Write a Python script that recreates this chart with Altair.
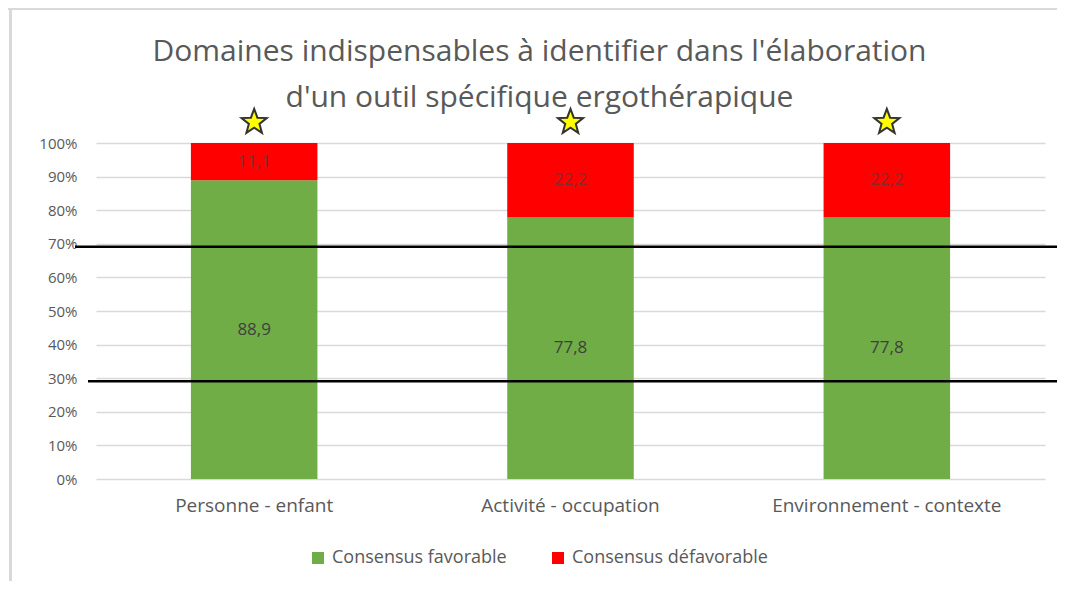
import math
import altair as alt
import pandas as pd

# ---- data ----
categories = ["Personne - enfant", "Activité - occupation", "Environnement - contexte"]
favorable = [88.9, 77.8, 77.8]
defavorable = [11.1, 22.2, 22.2]
series = ["Consensus favorable", "Consensus défavorable"]
colors = ["#70AD47", "#FF0000"]
y_ticks = [0.0, 0.1, 0.2, 0.3, 0.4, 0.5, 0.6, 0.7, 0.8, 0.9, 1.0]
upper_line = [0.691]
lower_line = [0.291]
star_level = [1.062, 1.062, 1.062]
title_lines = ["Domaines indispensables à identifier dans l'élaboration",
               "d'un outil spécifique ergothérapique"]

rows = []
for i, c in enumerate(categories):
    rows.append({"cat": c, "serie": series[0], "ord": 0, "v": favorable[i]})
    rows.append({"cat": c, "serie": series[1], "ord": 1, "v": defavorable[i]})
df = pd.DataFrame(rows)
df_star = pd.DataFrame({"cat": categories, "y": star_level})
df_up = pd.DataFrame({"y": upper_line})
df_low = pd.DataFrame({"y": lower_line})
df_one = pd.DataFrame({"a": [0]})

FONT = "Open Sans"
W, H = 949, 336

# star symbol path (unit coordinates)
pts = []
for k in range(10):
    ang = math.radians(-90 + 36 * k)
    r = 1.0 if k % 2 == 0 else 0.42
    pts.append(f"{r*math.cos(ang):.3f},{r*math.sin(ang):.3f}")
star_path = "M" + " L".join(pts) + " Z"

xscale = alt.Scale(domain=categories, paddingInner=0.6, paddingOuter=0.3)
yscale = alt.Scale(domain=[0, 1])

x_axis = alt.Axis(title=None, labelAngle=0, ticks=False, domain=False,
                  labelFont=FONT, labelFontSize=19, labelColor="#595959",
                  labelPadding=17, labelLimit=0)
y_axis = alt.Axis(title=None, format=".0%", values=y_ticks,
                  ticks=False, domain=False, gridColor="#D9D9D9", gridWidth=1.3,
                  labelFont=FONT, labelFontSize=15, labelColor="#595959",
                  labelPadding=19, labelOverlap=False, labelLimit=0)


def X(field):
    return alt.X(field, scale=xscale, sort=categories, axis=x_axis, title=None)


def Y(field):
    return alt.Y(field, scale=yscale, axis=y_axis, title=None)


base = (
    alt.Chart(df)
    .transform_joinaggregate(tot="sum(v)", groupby=["cat"])
    .transform_calculate(pct="datum.v / datum.tot")
    .transform_stack(stack="pct", groupby=["cat"], as_=["y0", "y1"],
                     sort=[alt.SortField("ord", order="ascending")])
    .transform_calculate(mid="(datum.y0 + datum.y1) / 2",
                         lab="replace(format(datum.v, '.1f'), '.', ',')")
)

bars = base.mark_bar().encode(
    x=X("cat:N"),
    y=Y("y0:Q"),
    y2="y1:Q",
    color=alt.Color("serie:N", scale=alt.Scale(domain=series, range=colors),
                    legend=alt.Legend(title=None, orient="none", legendX=213, legendY=406,
                                      direction="horizontal", symbolType="square",
                                      symbolSize=144, symbolStrokeWidth=0,
                                      labelFont=FONT, labelFontSize=18,
                                      labelColor="#595959", columnPadding=42,
                                      labelOffset=5, labelLimit=0)),
)

labels = base.mark_text(font=FONT, fontSize=17).encode(
    x=X("cat:N"),
    y=Y("mid:Q"),
    text="lab:N",
    color=alt.condition(alt.datum.ord == 0, alt.value("#404040"), alt.value("#8a2b2b")),
)

stars = alt.Chart(df_star).mark_point(
    shape=star_path, size=700, filled=True, fill="#FFFF00", stroke="#333333",
    strokeWidth=2, opacity=1
).encode(
    x=X("cat:N"),
    y=Y("y:Q"),
)

rule_up = alt.Chart(df_up).mark_rule(color="black", strokeWidth=2.5).encode(
    y=Y("y:Q"), x=alt.value(-21), x2=alt.value(W + 14))
rule_low = alt.Chart(df_low).mark_rule(color="black", strokeWidth=2.5).encode(
    y=Y("y:Q"), x=alt.value(-8), x2=alt.value(W + 20))

frame_left = alt.Chart(df_one).mark_rule(color="#D9D9D9", strokeWidth=3).encode(
    x=alt.value(-85.5), y=alt.value(-135), y2=alt.value(H + 102))
frame_top = alt.Chart(df_one).mark_rule(color="#D9D9D9", strokeWidth=3).encode(
    x=alt.value(-88), x2=alt.value(W + 12), y=alt.value(-134.5))

chart = (
    alt.layer(bars, labels, rule_up, rule_low, stars, frame_left, frame_top)
    .properties(
        width=W, height=H,
        autosize=alt.AutoSizeParams(type="none"),
        padding={"left": 88, "top": 135, "right": 12, "bottom": 102},
        title=alt.TitleParams(text=title_lines, font=FONT, fontSize=30,
                              fontWeight="normal", color="#595959", lineHeight=46,
                              anchor="middle", frame="group", dx=-31, offset=-106),
        background="white",
    )
    .configure_view(stroke=None)
)

chart.save("out.html", embed_options={"renderer": "svg", "actions": False})
